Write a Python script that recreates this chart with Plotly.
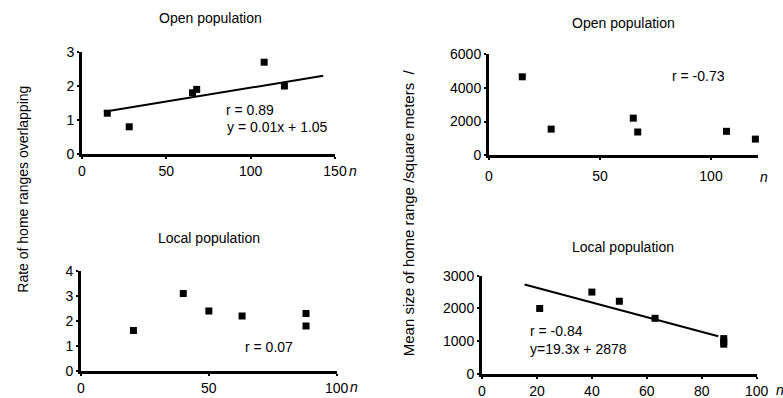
import plotly.graph_objects as go

# ---- data ----
open_overlap_n = [15, 28, 65.5, 68, 108, 120]
open_overlap_rate = [1.2, 0.8, 1.8, 1.9, 2.7, 2.0]
open_overlap_fit_n = [13, 143]
open_overlap_fit_rate = [1.24, 2.30]

open_size_n = [15, 28, 65, 67, 107, 120]
open_size_m2 = [4650, 1550, 2200, 1380, 1420, 960]

local_overlap_n = [20.5, 40, 50, 63, 88, 88]
local_overlap_rate = [1.62, 3.1, 2.4, 2.2, 2.3, 1.8]

local_size_n = [21, 40, 50, 63, 88, 88, 88]
local_size_m2 = [2000, 2500, 2220, 1700, 1080, 980, 910]
local_size_fit_n = [15.5, 86]
local_size_fit_m2 = [2730, 1150]

title_open = "Open population"
title_local = "Local population"
ylabel_left = "Rate of home ranges overlapping"
ylabel_right = "Mean size of home range /square meters  /"

FONT = "Liberation Sans, Arial, sans-serif"
W, H = 783, 398

def px(x):
    return x / W

def py(y):
    return 1 - y / H

fig = go.Figure()

mk = dict(symbol="square", size=7, color="black")

fig.add_trace(go.Scatter(x=open_overlap_n, y=open_overlap_rate, mode="markers", marker=mk,
                         xaxis="x", yaxis="y", cliponaxis=False))
fig.add_trace(go.Scatter(x=open_overlap_fit_n, y=open_overlap_fit_rate, mode="lines",
                         line=dict(color="black", width=2), xaxis="x", yaxis="y", cliponaxis=False))
fig.add_trace(go.Scatter(x=open_size_n, y=open_size_m2, mode="markers", marker=mk,
                         xaxis="x2", yaxis="y2", cliponaxis=False))
fig.add_trace(go.Scatter(x=local_overlap_n, y=local_overlap_rate, mode="markers", marker=mk,
                         xaxis="x3", yaxis="y3", cliponaxis=False))
fig.add_trace(go.Scatter(x=local_size_n, y=local_size_m2, mode="markers", marker=mk,
                         xaxis="x4", yaxis="y4", cliponaxis=False))
fig.add_trace(go.Scatter(x=local_size_fit_n, y=local_size_fit_m2, mode="lines",
                         line=dict(color="black", width=2), xaxis="x4", yaxis="y4", cliponaxis=False))

tickfont = dict(family=FONT, size=14, color="black")

def xax(domain, rng, dtick, anchor, standoff=0):
    return dict(domain=domain, range=rng, dtick=dtick, tick0=0, anchor=anchor, automargin=False,
                showline=True, linecolor="black", linewidth=2.5, showgrid=False, zeroline=False,
                ticks="outside", ticklen=2, tickwidth=2, tickcolor="black", tickfont=tickfont,
                ticklabelstandoff=standoff)

def yax(domain, rng, dtick, anchor):
    return dict(domain=domain, range=rng, dtick=dtick, tick0=0, anchor=anchor, automargin=False,
                showline=True, linecolor="black", linewidth=3, showgrid=False, zeroline=False,
                ticks="outside", ticklen=2, tickwidth=2, tickcolor="black", tickfont=tickfont)

fig.update_layout(
    template="none",
    width=W, height=H, margin=dict(l=0, r=0, t=0, b=0, pad=0), autosize=False,
    paper_bgcolor="white", plot_bgcolor="white", showlegend=False,
    font=dict(family=FONT, color="black"),
    xaxis=xax([px(82), px(335)], [0, 150], 50, "y", 0),
    yaxis=yax([py(154), py(52)], [0, 3], 1, "x"),
    xaxis2=xax([px(489), px(757.6)], [0, 121], 50, "y2", 4),
    yaxis2=yax([py(155.3), py(54)], [0, 6000], 2000, "x2"),
    xaxis3=xax([px(81), px(336.7)], [0, 100], 50, "y3", 0),
    yaxis3=yax([py(371), py(271)], [0, 4], 1, "x3"),
    xaxis4=xax([px(482), px(756.7)], [0, 100], 20, "y4", 0),
    yaxis4=yax([py(374), py(275.7)], [0, 3000], 1000, "x4"),
)

ann = []
def paper_text(text, x, y, size=14, angle=0, xanchor="center", italic=False):
    t = f"<i>{text}</i>" if italic else text
    ann.append(dict(text=t, x=px(x), y=py(y), xref="paper", yref="paper", showarrow=False,
                    xanchor=xanchor, yanchor="middle", textangle=angle,
                    font=dict(family=FONT, size=size, color="black")))

def data_text(text, x, y, xr, yr, size=14):
    ann.append(dict(text=text, x=x, y=y, xref=xr, yref=yr, showarrow=False,
                    xanchor="left", yanchor="middle",
                    font=dict(family=FONT, size=size, color="black")))

paper_text(title_open, 210, 18)
paper_text(title_open, 623, 23)
paper_text(title_local, 209, 238)
paper_text(title_local, 623, 247)
paper_text(ylabel_left, 22.7, 189, size=14, angle=-90)
paper_text(ylabel_right, 408.3, 213, size=15, angle=-90)
paper_text("n", 353, 171, italic=True)
paper_text("n", 764, 177, italic=True)
paper_text("n", 354, 387, italic=True)
paper_text("n", 774, 390, italic=True, xanchor="left")

data_text("r = 0.89", 84, 1.29, "x", "y")
data_text("y = 0.01x + 1.05", 84.5, 0.80, "x", "y")
data_text("r = -0.73", 81.5, 4710, "x2", "y2")
data_text("r = 0.07", 63.3, 0.97, "x3", "y3")
data_text("r = -0.84", 16.7, 1312, "x4", "y4")
data_text("y=19.3x + 2878", 16.7, 763, "x4", "y4")

fig.update_layout(annotations=ann)
fig.write_html("out.html", config={"displayModeBar": False},
               post_script="document.body.style.margin='0';document.body.style.overflow='hidden';")
